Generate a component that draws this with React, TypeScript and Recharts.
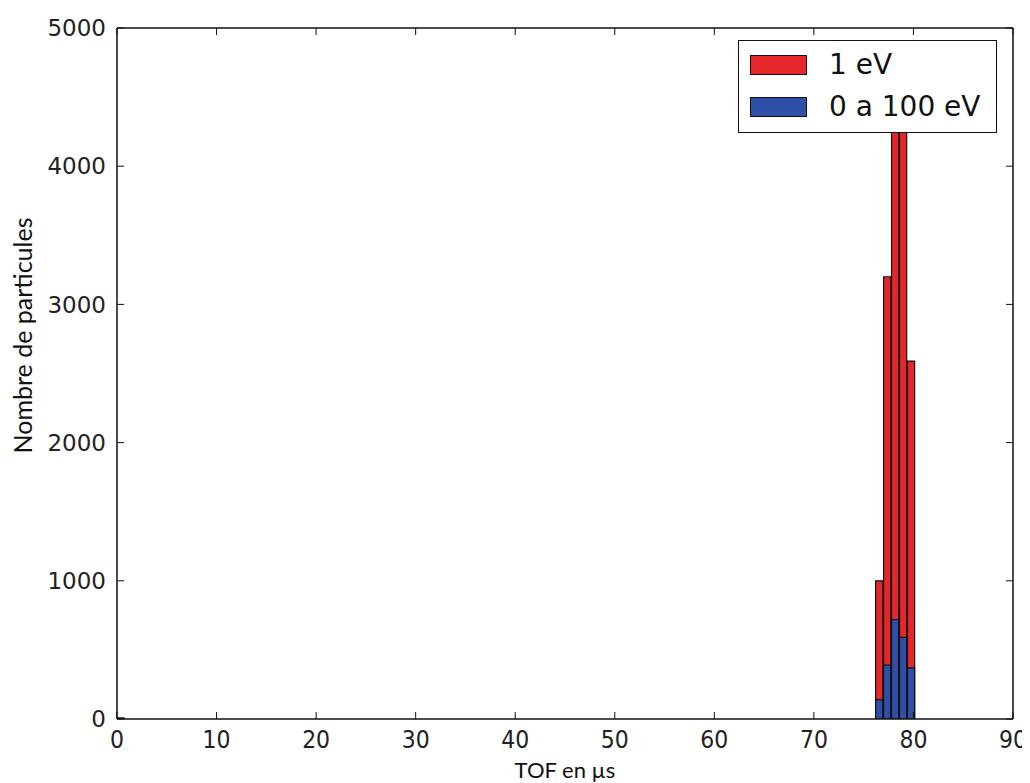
import React from 'react';
import { ComposedChart, Bar, XAxis, YAxis, Legend, Label } from 'recharts';

// Histogram bin centers (TOF in µs)
const binCenters = [0.4, 76.6, 77.4, 78.2, 79.0, 79.8];
// "1 eV" counts (red)
const redCounts = [8, 1000, 3200, 4700, 4600, 2590];
// "0 a 100 eV" counts (blue)
const blueCounts = [0, 140, 390, 720, 590, 370];

const xTicks = [0, 10, 20, 30, 40, 50, 60, 70, 80, 90];
const yTicks = [0, 1000, 2000, 3000, 4000, 5000];

const RED = '#e5262a';
const BLUE = '#2f4fa6';

const data = binCenters.map((x, i) => ({
  x,
  red: redCounts[i],
  blue: blueCounts[i],
}));

const LegendBox = () => (
  <div
    style={{
      width: 259,
      height: 93,
      boxSizing: 'border-box',
      border: '1.5px solid #111',
      background: '#fff',
      fontFamily: "'DejaVu Sans', sans-serif",
      fontSize: 28,
      color: '#111',
      position: 'relative',
    }}
  >
    {[
      { c: RED, t: '1 eV' },
      { c: BLUE, t: '0 a 100 eV' },
    ].map((e, i) => (
      <div
        key={i}
        style={{
          position: 'absolute',
          left: 11,
          top: 12 + i * 42,
          display: 'flex',
          alignItems: 'center',
          height: 24,
        }}
      >
        <div
          style={{
            width: 57,
            height: 20,
            background: e.c,
            border: '1.5px solid #111',
            boxSizing: 'border-box',
          }}
        />
        <span style={{ marginLeft: 22, lineHeight: '24px', whiteSpace: 'nowrap' }}>{e.t}</span>
      </div>
    ))}
  </div>
);

const XTick = (props: any) => {
  const { x, y, payload } = props;
  return (
    <text
      x={0}
      y={0}
      dy={18}
      transform={`translate(${x},${y}) scale(0.88,1)`}
      textAnchor="middle"
      fontFamily="'DejaVu Sans', sans-serif"
      fontSize={25}
      fill="#222"
    >
      {payload.value}
    </text>
  );
};

export default function App() {
  const yTickStyle = {
    fontFamily: "'DejaVu Sans', sans-serif",
    fontSize: 23,
    fill: '#222',
  };
  const axisLine = { stroke: '#111', strokeWidth: 1.5 };
  return (
    <div style={{ width: 1022, height: 775, background: '#fff' }}>
      <ComposedChart
        width={1022}
        height={775}
        data={data}
        margin={{ top: 19, right: 16, bottom: 0, left: 9 }}
        barGap={0}
        barCategoryGap={0}
        style={{ overflow: 'visible' }}
      >
        <XAxis
          xAxisId="main"
          dataKey="x"
          type="number"
          domain={[0, 90]}
          ticks={xTicks}
          allowDataOverflow
          height={64}
          tickSize={-7}
          tickMargin={18}
          tick={<XTick />}
          axisLine={axisLine}
          tickLine={{ stroke: '#111' }}
          interval={0}
        >
          <Label
            value="TOF en µs"
            position="insideBottom"
            offset={5}
            style={{ fontFamily: "Lato, 'Open Sans', sans-serif", fontSize: 22, fill: '#111' }}
          />
        </XAxis>
        <XAxis
          xAxisId="top"
          orientation="top"
          dataKey="x"
          type="number"
          domain={[0, 90]}
          ticks={xTicks}
          allowDataOverflow
          height={1}
          tickSize={-7}
          tickFormatter={() => ''}
          axisLine={axisLine}
          tickLine={{ stroke: '#111' }}
          interval={0}
        />
        <YAxis
          yAxisId="main"
          type="number"
          domain={[0, 5000]}
          ticks={yTicks}
          allowDataOverflow
          width={100}
          tickSize={-7}
          tickMargin={18}
          tick={yTickStyle}
          axisLine={axisLine}
          tickLine={{ stroke: '#111' }}
          interval={0}
        >
          <Label
            value="Nombre de particules"
            position="insideLeft"
            angle={-90}
            offset={6}
            dy={-38}
            style={{
              fontFamily: "Lato, 'Open Sans', sans-serif",
              fontSize: 25,
              fill: '#111',
              textAnchor: 'middle',
            }}
          />
        </YAxis>
        <YAxis
          yAxisId="right"
          orientation="right"
          type="number"
          domain={[0, 5000]}
          ticks={yTicks}
          allowDataOverflow
          width={1}
          tickSize={-7}
          tickFormatter={() => ''}
          axisLine={axisLine}
          tickLine={{ stroke: '#111' }}
          interval={0}
        />
        <Legend
          layout="horizontal"
          verticalAlign="middle"
          align="center"
          content={() => <LegendBox />}
          wrapperStyle={{ top: 32, left: 730, width: 259, height: 93 }}
        />
        <Bar
          xAxisId="main"
          yAxisId="main"
          dataKey="red"
          fill={RED}
          stroke="#111"
          strokeWidth={1.2}
          barSize={8}
          isAnimationActive={false}
        />
        <Bar
          xAxisId="top"
          yAxisId="right"
          dataKey="blue"
          fill={BLUE}
          stroke="#111"
          strokeWidth={1.2}
          barSize={8}
          isAnimationActive={false}
        />
      </ComposedChart>
    </div>
  );
}
